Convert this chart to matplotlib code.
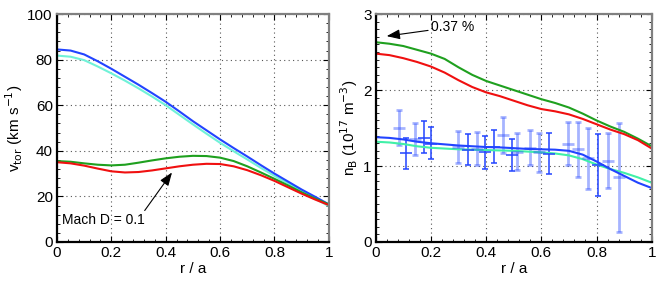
import numpy as np
import matplotlib
matplotlib.use("Agg")
import matplotlib.pyplot as plt
from matplotlib.ticker import MultipleLocator

plt.rcParams['font.family'] = ['Liberation Sans', 'DejaVu Sans']

# radial grid for the model profiles
r = [0.0, 0.05, 0.1, 0.15, 0.2, 0.25, 0.3, 0.35, 0.4, 0.45, 0.5,
     0.55, 0.6, 0.65, 0.7, 0.75, 0.8, 0.85, 0.9, 0.95, 1.0]

# left panel: toroidal velocity (km/s)
vtor_blue = [84.5, 84.0, 82.3, 79.3, 76.0, 72.5, 69.0, 65.3, 61.5, 57.3, 53.0,
             49.0, 45.0, 41.2, 37.5, 33.7, 30.0, 26.5, 23.0, 19.8, 16.5]
vtor_cyan = [81.8, 81.3, 79.8, 77.0, 74.0, 70.8, 67.4, 63.8, 60.0, 55.8, 51.6,
             47.5, 43.5, 39.8, 36.2, 32.5, 29.0, 25.7, 22.3, 19.0, 15.7]
vtor_green = [35.5, 35.2, 34.5, 33.9, 33.6, 33.9, 34.8, 35.8, 36.7, 37.4, 37.8,
              37.7, 37.0, 35.5, 33.2, 30.5, 27.7, 24.8, 21.8, 19.0, 16.5]
vtor_red = [35.0, 34.5, 33.5, 32.2, 31.0, 30.5, 30.7, 31.4, 32.3, 33.2, 33.9,
            34.3, 34.2, 33.2, 31.5, 29.3, 26.8, 24.0, 21.2, 18.6, 16.2]

# right panel: boron density (1e17 m^-3)
nb_green = [2.63, 2.61, 2.58, 2.53, 2.48, 2.41, 2.30, 2.20, 2.12, 2.06, 2.00,
            1.94, 1.88, 1.83, 1.77, 1.69, 1.60, 1.52, 1.45, 1.36, 1.26]
nb_red = [2.48, 2.46, 2.42, 2.37, 2.31, 2.23, 2.13, 2.04, 1.97, 1.92, 1.86,
          1.80, 1.75, 1.72, 1.68, 1.62, 1.55, 1.48, 1.42, 1.34, 1.23]
nb_blue = [1.38, 1.37, 1.35, 1.32, 1.30, 1.285, 1.27, 1.26, 1.25, 1.245, 1.235,
           1.225, 1.22, 1.215, 1.20, 1.15, 1.06, 0.96, 0.87, 0.78, 0.71]
nb_cyan = [1.32, 1.31, 1.29, 1.26, 1.24, 1.23, 1.22, 1.215, 1.21, 1.205, 1.20,
           1.19, 1.18, 1.165, 1.14, 1.09, 1.02, 0.96, 0.91, 0.85, 0.78]

# measured points, two channels (dark / faded)
meas_dark_r = [0.111, 0.175, 0.200, 0.333, 0.396, 0.429, 0.494, 0.629, 0.807]
meas_dark_n = [1.17, 1.37, 1.29, 1.21, 1.18, 1.25, 1.14, 1.16, 1.01]
meas_dark_lo = [0.96, 1.17, 1.09, 1.01, 0.965, 1.035, 0.93, 0.89, 0.60]
meas_dark_hi = [1.37, 1.59, 1.51, 1.42, 1.39, 1.48, 1.35, 1.43, 1.42]

meas_light_r = [0.086, 0.144, 0.300, 0.366, 0.460, 0.512, 0.558, 0.593,
                0.696, 0.732, 0.768, 0.842, 0.880]
meas_light_n = [1.50, 1.355, 1.25, 1.23, 1.41, 1.19, 1.24, 1.18,
                1.29, 1.22, 1.10, 1.07, 0.85]
meas_light_lo = [1.28, 1.14, 1.04, 1.01, 1.17, 0.95, 1.01, 0.92,
                 1.01, 0.85, 0.70, 0.71, 0.135]
meas_light_hi = [1.74, 1.57, 1.46, 1.45, 1.65, 1.43, 1.48, 1.43,
                 1.575, 1.58, 1.50, 1.43, 1.56]

c_blue = '#2244ff'
c_red = '#f01010'
c_green = '#1fa01f'
c_cyan_l = '#70f2d8'
c_cyan_r = '#40f0a8'


def style_axes(ax, ymax, ymajor, yminor):
    ax.set_xlim(0, 1)
    ax.set_ylim(0, ymax)
    ax.xaxis.set_major_locator(MultipleLocator(0.2))
    ax.xaxis.set_minor_locator(MultipleLocator(0.04))
    ax.yaxis.set_major_locator(MultipleLocator(ymajor))
    ax.yaxis.set_minor_locator(MultipleLocator(yminor))
    ax.tick_params(which='both', direction='in', top=True, right=True,
                   labelsize=11, pad=3)
    ax.tick_params(which='major', length=4, width=0.8)
    ax.tick_params(which='minor', length=2, width=0.6)
    ax.grid(True, which='major', linestyle=(0, (1, 3)), color='#555555', linewidth=0.8)
    for s in ['left', 'bottom']:
        ax.spines[s].set_linewidth(1.6)
        ax.spines[s].set_color('black')
    for s in ['top', 'right']:
        ax.spines[s].set_linewidth(1.6)
        ax.spines[s].set_color('#808080')
    ax.xaxis.set_major_formatter(plt.FuncFormatter(lambda v, p: '%g' % v))
    ax.set_xlabel('r / a', fontsize=11, labelpad=1)


fig = plt.figure(figsize=(6.59, 2.94), dpi=100)
ax1 = fig.add_axes([0.0865, 0.177, 0.4125, 0.775])
ax2 = fig.add_axes([0.570, 0.177, 0.419, 0.775])

# left panel
ax1.plot(r, vtor_cyan, color=c_cyan_l, lw=1.5)
ax1.plot(r, vtor_blue, color=c_blue, lw=1.5)
ax1.plot(r, vtor_green, color=c_green, lw=1.5)
ax1.plot(r, vtor_red, color=c_red, lw=1.5)
style_axes(ax1, 100, 20, 4)
ax1.set_ylabel(r'v$_{\rm tor}$ (km s$^{-1}$)', fontsize=11, labelpad=2)
ax1.annotate('Mach D = 0.1', xy=(0.423, 30.5), xytext=(0.02, 9.5),
             fontsize=10, va='center', ha='left',
             arrowprops=dict(arrowstyle='-|>,head_length=0.8,head_width=0.3',
                             color='black', lw=0.8,
                             mutation_scale=10, shrinkA=0, shrinkB=0,
                             relpos=(0.97, 1.0)))

# right panel
ax2.errorbar(meas_light_r, meas_light_n,
             yerr=[np.subtract(meas_light_n, meas_light_lo), np.subtract(meas_light_hi, meas_light_n)],
             fmt='_', color=c_blue, alpha=0.4, ms=9, mew=2.0, elinewidth=2.0, capsize=2.5, capthick=2.0)
ax2.errorbar(meas_dark_r, meas_dark_n,
             yerr=[np.subtract(meas_dark_n, meas_dark_lo), np.subtract(meas_dark_hi, meas_dark_n)],
             fmt='_', color=c_blue, ms=9, mew=1.1, elinewidth=1.1, capsize=2.5, capthick=1.1)
ax2.plot(r, nb_cyan, color=c_cyan_r, lw=1.5)
ax2.plot(r, nb_blue, color=c_blue, lw=1.5)
ax2.plot(r, nb_green, color=c_green, lw=1.5)
ax2.plot(r, nb_red, color=c_red, lw=1.5)
style_axes(ax2, 3, 1, 0.1)
ax2.set_ylabel(r'n$_{\rm B}$ (10$^{17}$ m$^{-3}$)', fontsize=11, labelpad=2)
ax2.annotate('0.37 %', xy=(0.04, 2.71), xytext=(0.2, 2.83),
             fontsize=10, va='center', ha='left',
             arrowprops=dict(arrowstyle='-|>,head_length=0.8,head_width=0.3',
                             color='black', lw=0.8,
                             mutation_scale=10, shrinkA=0, shrinkB=0))

fig.savefig('out.png', dpi=100)
